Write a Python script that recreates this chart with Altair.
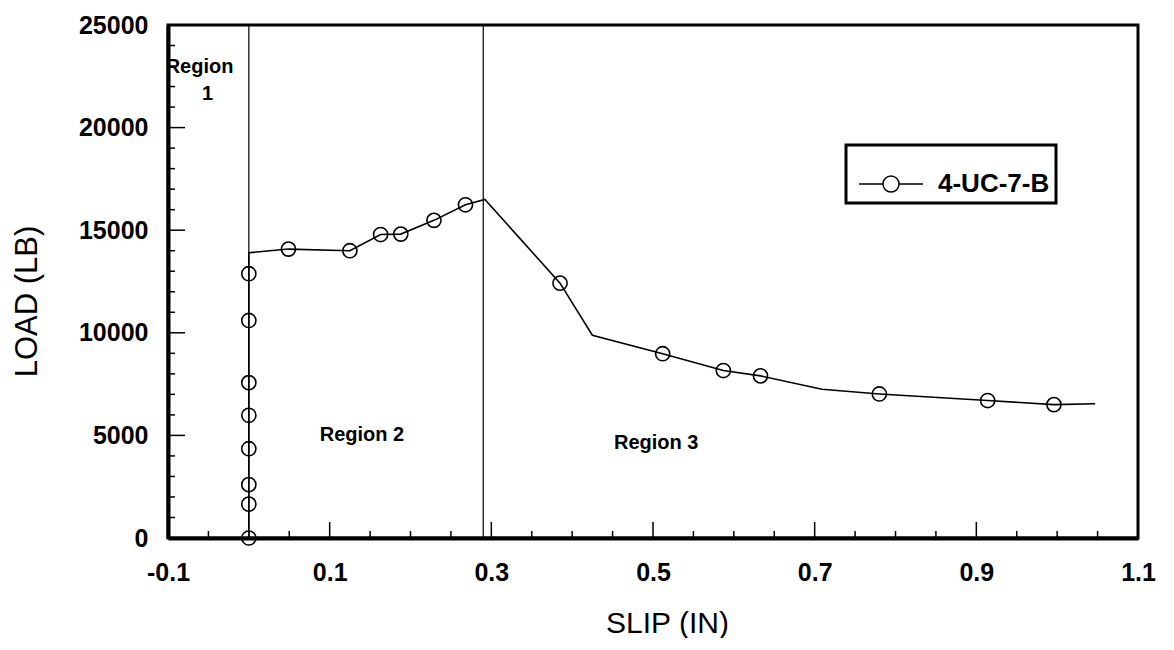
import altair as alt
import pandas as pd

# ---- data ----
slip = [0.0, 0.0, 0.0, 0.0, 0.0, 0.0, 0.0, 0.0, 0.0, 0.049, 0.125, 0.163, 0.188,
        0.229, 0.268, 0.292, 0.385, 0.425, 0.512, 0.587, 0.633, 0.709, 0.780,
        0.914, 0.996, 1.047]
load = [0, 1650, 2600, 4350, 5980, 7570, 10600, 12880, 13900, 14080, 14000,
        14790, 14810, 15480, 16240, 16500, 12420, 9880, 8980, 8160, 7900, 7250,
        7020, 6700, 6500, 6540]
marker = [1, 1, 1, 1, 1, 1, 1, 1, 0, 1, 1, 1, 1, 1, 1, 0, 1, 0, 1, 1, 1, 0, 1,
          1, 1, 0]
series_name = "4-UC-7-B"

boundaries = [0.0, 0.29]

region_text = ["Region", "1", "Region 2", "Region 3"]
region_x = [-0.061, -0.051, 0.14, 0.504]
region_y = [22970, 21630, 5010, 4630]

x_major = [-0.1, 0.1, 0.3, 0.5, 0.7, 0.9, 1.1]
x_minor = [-0.05, 0.0, 0.05, 0.15, 0.2, 0.25, 0.35, 0.4, 0.45, 0.55, 0.6, 0.65,
           0.75, 0.8, 0.85, 0.95, 1.0, 1.05]
y_major = [0, 5000, 10000, 15000, 20000, 25000]
y_minor = [1000, 2000, 3000, 4000, 6000, 7000, 8000, 9000, 11000, 12000, 13000,
           14000, 16000, 17000, 18000, 19000, 21000, 22000, 23000, 24000]

W, H = 970, 513
FONT = "Liberation Sans"

df = pd.DataFrame({"slip": slip, "load": load, "marker": marker,
                   "idx": list(range(len(slip)))})
df["series"] = series_name
df_pts = df[df["marker"] == 1]

xs = alt.Scale(domain=[-0.1, 1.1], nice=False, zero=False)
ys = alt.Scale(domain=[0, 25000], nice=False, zero=False)

x_axis = alt.Axis(values=x_major, tickSize=0, grid=False,
                  labelExpr="datum.value < 0 ? '-' + format(-datum.value, '.1f') : format(datum.value, '.1f')",
                  labelFont=FONT, labelFontSize=25, labelFontWeight="bold",
                  labelColor="black", labelPadding=22, labelFlush=False,
                  domainColor="black", domainWidth=4,
                  title="SLIP (IN)", titleFont=FONT, titleFontSize=30,
                  titleFontWeight="normal", titleColor="black",
                  titleX=W / 2 + 14, titleY=94, titleBaseline="alphabetic",
                  titleAlign="center")
y_axis = alt.Axis(values=y_major, format="d", tickSize=0, grid=False,
                  labelFont=FONT, labelFontSize=25, labelFontWeight="bold",
                  labelColor="black", labelPadding=20, labelFlush=False,
                  domainColor="black", domainWidth=4,
                  title="LOAD (LB)", titleFont=FONT, titleFontSize=31,
                  titleFontWeight="normal", titleColor="black",
                  titleX=-132, titleY=276, titleBaseline="alphabetic",
                  titleAlign="center", titleAngle=270)

line = alt.Chart(df).mark_line(color="black", strokeWidth=1.6).encode(
    x=alt.X("slip:Q", scale=xs, axis=x_axis),
    y=alt.Y("load:Q", scale=ys, axis=y_axis),
    order=alt.Order("idx:Q"),
)

legend_path = ("M-1,0L-0.27,0M0.27,0L1,0"
               "M-0.25,0A0.25,0.25,0,1,0,0.25,0A0.25,0.25,0,1,0,-0.25,0")

points = alt.Chart(df_pts).mark_point(shape="circle", size=200, filled=False,
                                      strokeWidth=1.6, opacity=1).encode(
    x=alt.X("slip:Q", scale=xs),
    y=alt.Y("load:Q", scale=ys),
    color=alt.Color("series:N", scale=alt.Scale(range=["black"]),
                    legend=alt.Legend(title=None, orient="none",
                                      legendX=678, legendY=120,
                                      symbolType=legend_path, symbolSize=4096,
                                      symbolStrokeWidth=1.5,
                                      symbolFillColor="transparent",
                                      symbolOffset=6,
                                      labelFont=FONT, labelFontSize=26,
                                      labelFontWeight="bold",
                                      labelColor="black", labelOffset=14,
                                      padding=6)),
)

vlines = alt.Chart(pd.DataFrame({"b": boundaries})).mark_rule(
    color="black", strokeWidth=1.2).encode(x=alt.X("b:Q", scale=xs))

texts = alt.Chart(pd.DataFrame({"t": region_text, "x": region_x,
                                "y": region_y})).mark_text(
    font=FONT, fontSize=20, fontWeight="bold", color="black",
    align="center", baseline="middle").encode(
    x=alt.X("x:Q", scale=xs), y=alt.Y("y:Q", scale=ys), text="t:N")

xmaj = alt.Chart(pd.DataFrame({"v": x_major})).mark_rule(
    color="black", strokeWidth=1.5).encode(
    x=alt.X("v:Q", scale=xs), y=alt.value(H), y2=alt.value(H - 16))
xmin = alt.Chart(pd.DataFrame({"v": x_minor})).mark_rule(
    color="black", strokeWidth=1.5).encode(
    x=alt.X("v:Q", scale=xs), y=alt.value(H), y2=alt.value(H - 7))
ymaj = alt.Chart(pd.DataFrame({"v": y_major})).mark_rule(
    color="black", strokeWidth=1.5).encode(
    y=alt.Y("v:Q", scale=ys), x=alt.value(0), x2=alt.value(17))
ymin = alt.Chart(pd.DataFrame({"v": y_minor})).mark_rule(
    color="black", strokeWidth=1.5).encode(
    y=alt.Y("v:Q", scale=ys), x=alt.value(0), x2=alt.value(7))

chart = alt.layer(xmaj, xmin, ymaj, ymin, vlines, line, points, texts).properties(
    width=W, height=H,
    autosize=alt.AutoSizeParams(type="none"),
    padding={"left": 168, "top": 25, "right": 30, "bottom": 100},
    background="white",
).configure_view(
    stroke="black", strokeWidth=3
).configure_legend(
    strokeColor="black", strokeWidth=3
)

chart.save("out.html", embed_options={"renderer": "svg", "actions": False})
